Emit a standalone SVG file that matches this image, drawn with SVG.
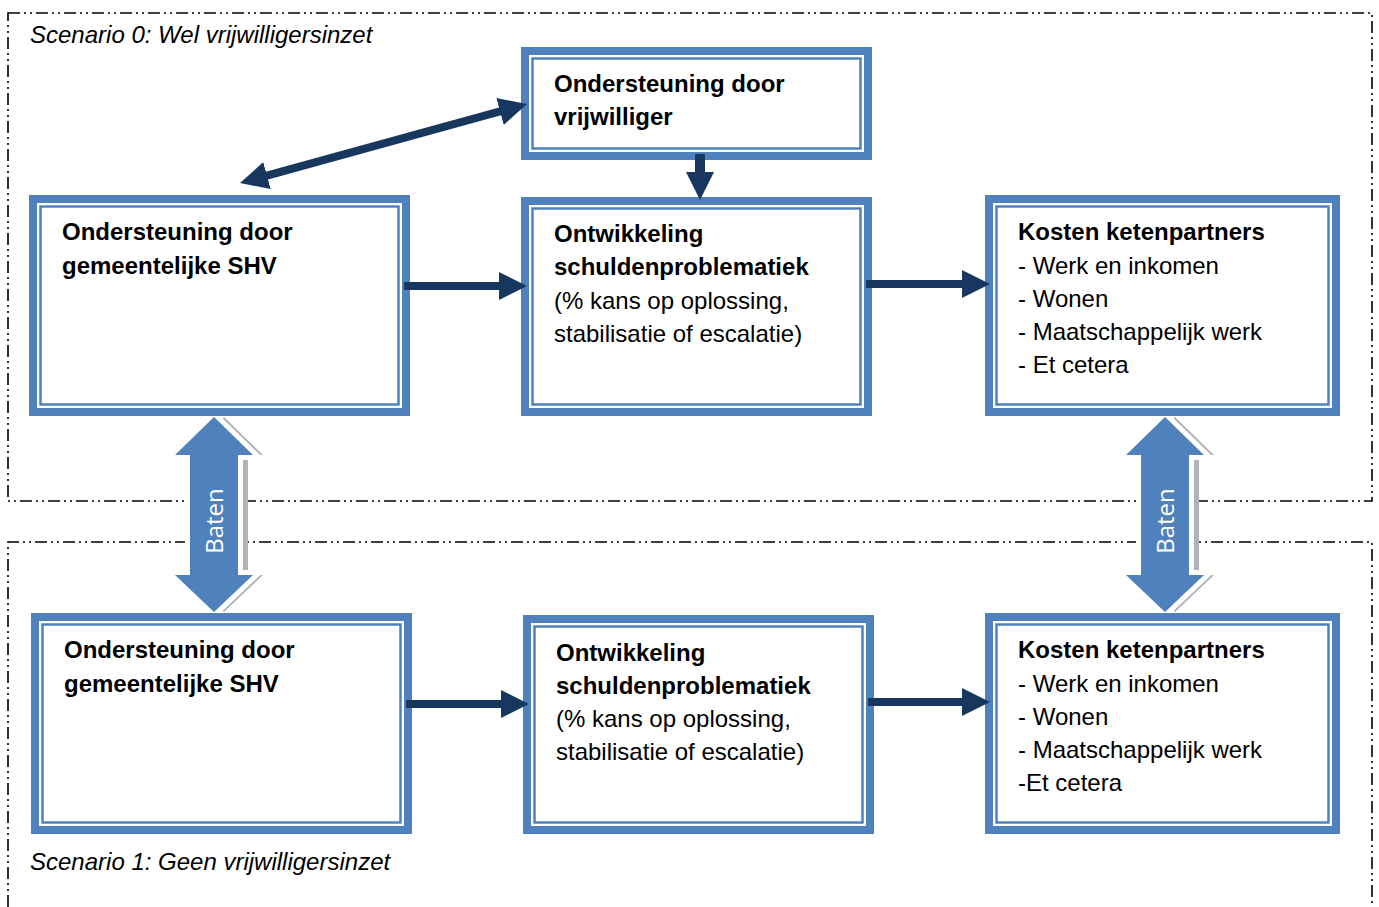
<svg xmlns="http://www.w3.org/2000/svg" width="1379" height="907" viewBox="0 0 1379 907">
<style>
.frame{fill:none;stroke:#000;stroke-width:1.6;stroke-dasharray:12 4 2 4 2 4}
.bo{fill:#fff;stroke:#4F81BD;stroke-width:8}
.bi{fill:none;stroke:#4F81BD;stroke-width:2.5}
.t{font-family:"Liberation Sans",Arial,sans-serif;font-size:24px;fill:#000}
.b{font-weight:bold}
.sc{font-family:"Liberation Sans",Arial,sans-serif;font-size:24px;font-style:italic;fill:#000}
.con{stroke:#17375E;fill:none}
.baten{fill:#4F81BD;stroke:#fff;stroke-width:10;stroke-linejoin:miter;paint-order:stroke}
.shadow{fill:#B0B4BA}
.bt{font-family:"Open Sans","DejaVu Sans",sans-serif;font-size:24px;fill:#fff;text-anchor:middle}
</style>
<defs>
<marker id="ah" viewBox="0 0 28 28" markerWidth="28" markerHeight="28" refX="14" refY="14" markerUnits="userSpaceOnUse" orient="auto-start-reverse">
<path d="M0,0 L28,14 L0,28 z" fill="#17375E"/>
</marker>
<polygon id="bat" points="0,417 39,455 24,455 24,575 39,575 0,612 -39,575 -24,575 -24,455 -39,455"/>
</defs>
<rect width="1379" height="907" fill="#fff"/>
<g id="frames">
<rect class="frame" x="8" y="13" width="1364" height="488"/>
<path class="frame" d="M8,907 V542 H1372 V907"/>
<text class="sc" x="30" y="43">Scenario 0: Wel vrijwilligersinzet</text>
<text class="sc" x="30" y="870">Scenario 1: Geen vrijwilligersinzet</text>
</g>
<g id="baten-left">
<use href="#bat" x="224" y="0" class="shadow"/>
<use href="#bat" x="214" y="0" class="baten"/>
<text class="bt" transform="translate(223,521) rotate(-90)">Baten</text>
</g>
<g id="baten-right">
<use href="#bat" x="1175" y="0" class="shadow"/>
<use href="#bat" x="1165" y="0" class="baten"/>
<text class="bt" transform="translate(1174,521) rotate(-90)">Baten</text>
</g>
<g id="vrijwilliger">
<rect class="bo" x="525" y="51" width="343" height="105"/>
<rect class="bi" x="532.5" y="58.5" width="328" height="90"/>
<text class="t b" x="554" y="92">Ondersteuning door</text>
<text class="t b" x="554" y="125">vrijwilliger</text>
</g>
<g id="shv-top">
<rect class="bo" x="33" y="199" width="373" height="213"/>
<rect class="bi" x="40.5" y="206.5" width="358" height="198"/>
<text class="t b" x="62" y="240">Ondersteuning door</text>
<text class="t b" x="62" y="274">gemeentelijke SHV</text>
</g>
<g id="ontwikkeling-top">
<rect class="bo" x="525" y="201" width="343" height="211"/>
<rect class="bi" x="532.5" y="208.5" width="328" height="196"/>
<text class="t b" x="554" y="242">Ontwikkeling</text>
<text class="t b" x="554" y="275">schuldenproblematiek</text>
<text class="t" x="554" y="309">(% kans op oplossing,</text>
<text class="t" x="554" y="342">stabilisatie of escalatie)</text>
</g>
<g id="kosten-top">
<rect class="bo" x="989" y="199" width="347" height="213"/>
<rect class="bi" x="996.5" y="206.5" width="332" height="198"/>
<text class="t b" x="1018" y="240">Kosten ketenpartners</text>
<text class="t" x="1018" y="274">- Werk en inkomen</text>
<text class="t" x="1018" y="307">- Wonen</text>
<text class="t" x="1018" y="340">- Maatschappelijk werk</text>
<text class="t" x="1018" y="373">- Et cetera</text>
</g>
<g id="shv-bottom">
<rect class="bo" x="35" y="617" width="373" height="213"/>
<rect class="bi" x="42.5" y="624.5" width="358" height="198"/>
<text class="t b" x="64" y="658">Ondersteuning door</text>
<text class="t b" x="64" y="692">gemeentelijke SHV</text>
</g>
<g id="ontwikkeling-bottom">
<rect class="bo" x="527" y="619" width="343" height="211"/>
<rect class="bi" x="534.5" y="626.5" width="328" height="196"/>
<text class="t b" x="556" y="661">Ontwikkeling</text>
<text class="t b" x="556" y="694">schuldenproblematiek</text>
<text class="t" x="556" y="727">(% kans op oplossing,</text>
<text class="t" x="556" y="760">stabilisatie of escalatie)</text>
</g>
<g id="kosten-bottom">
<rect class="bo" x="989" y="617" width="347" height="213"/>
<rect class="bi" x="996.5" y="624.5" width="332" height="198"/>
<text class="t b" x="1018" y="658">Kosten ketenpartners</text>
<text class="t" x="1018" y="692">- Werk en inkomen</text>
<text class="t" x="1018" y="725">- Wonen</text>
<text class="t" x="1018" y="758">- Maatschappelijk werk</text>
<text class="t" x="1018" y="791">-Et cetera</text>
</g>
<g id="connectors">
<line class="con" stroke-width="8" x1="253.5" y1="179.3" x2="513.5" y2="107.7" marker-start="url(#ah)" marker-end="url(#ah)"/>
<line class="con" stroke-width="10" x1="700" y1="154" x2="700" y2="186" marker-end="url(#ah)"/>
<line class="con" stroke-width="8" x1="404" y1="286" x2="513" y2="286" marker-end="url(#ah)"/>
<line class="con" stroke-width="8" x1="866" y1="284" x2="976" y2="284" marker-end="url(#ah)"/>
<line class="con" stroke-width="8" x1="406" y1="704" x2="515" y2="704" marker-end="url(#ah)"/>
<line class="con" stroke-width="8" x1="868" y1="702" x2="976" y2="702" marker-end="url(#ah)"/>
</g>
</svg>
